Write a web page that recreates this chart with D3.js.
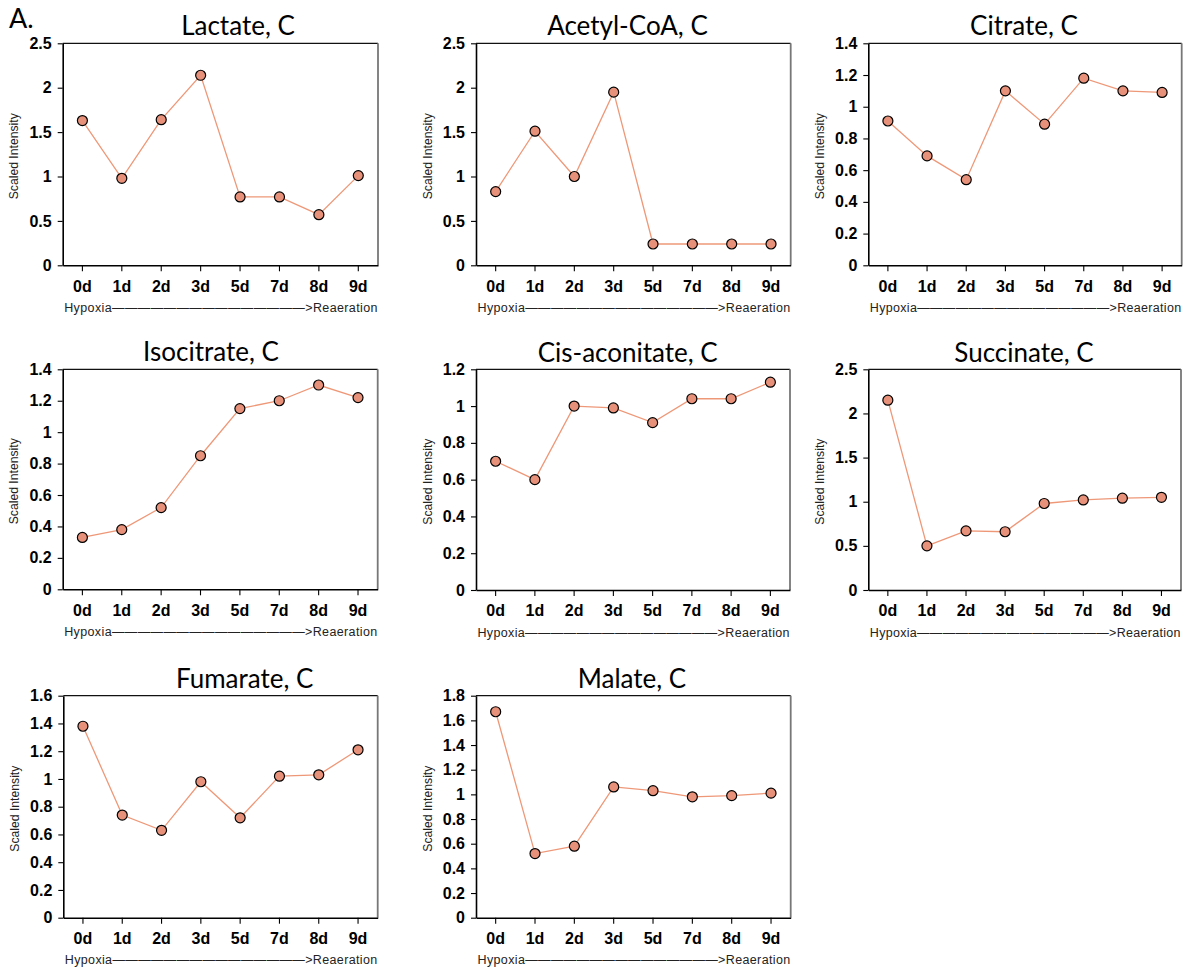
<!DOCTYPE html>
<html>
<head>
<meta charset="utf-8">
<script src="https://cdn.jsdelivr.net/npm/d3@7"></script>
<style>
  html, body { margin: 0; padding: 0; background: #fff; }
  svg { display: block; }
</style>
</head>
<body>
<svg id="chart" width="1190" height="972"></svg>
<script>
// Time points (hypoxia through reaeration)
const days = ["0d", "1d", "2d", "3d", "5d", "7d", "8d", "9d"];

// Metabolite titles
const titles = ["Lactate, C", "Acetyl-CoA, C", "Citrate, C",
                "Isocitrate, C", "Cis-aconitate, C", "Succinate, C",
                "Fumarate, C", "Malate, C"];

// Scaled intensity per metabolite
const lactate      = [1.63, 0.98, 1.64, 2.14, 0.77, 0.77, 0.57, 1.01];
const acetylCoA    = [0.83, 1.51, 1.00, 1.95, 0.24, 0.24, 0.24, 0.24];
const citrate      = [0.91, 0.69, 0.54, 1.10, 0.89, 1.18, 1.10, 1.09];
const isocitrate   = [0.33, 0.38, 0.52, 0.85, 1.15, 1.20, 1.30, 1.22];
const cisAconitate = [0.70, 0.60, 1.00, 0.99, 0.91, 1.04, 1.04, 1.13];
const succinate    = [2.15, 0.50, 0.67, 0.66, 0.98, 1.02, 1.04, 1.05];
const fumarate     = [1.38, 0.74, 0.63, 0.98, 0.72, 1.02, 1.03, 1.21];
const malate       = [1.67, 0.52, 0.58, 1.06, 1.03, 0.98, 0.99, 1.01];

// Y-axis tick values
const ticks25 = [0, 0.5, 1, 1.5, 2, 2.5];
const ticks14 = [0, 0.2, 0.4, 0.6, 0.8, 1, 1.2, 1.4];
const ticks12 = [0, 0.2, 0.4, 0.6, 0.8, 1, 1.2];
const ticks16 = [0, 0.2, 0.4, 0.6, 0.8, 1, 1.2, 1.4, 1.6];
const ticks18 = [0, 0.2, 0.4, 0.6, 0.8, 1, 1.2, 1.4, 1.6, 1.8];

const seriesList = [lactate, acetylCoA, citrate, isocitrate, cisAconitate, succinate, fumarate, malate];
const tickList   = [ticks25, ticks25, ticks14, ticks14, ticks12, ticks25, ticks16, ticks18];

// Plot-area frames for each panel (left, top, right, bottom) and title anchor
const frames = [
  {l: 62.7,  t: 43.3,  r: 378,    b: 265.3, tx: 238,    ty: 35},
  {l: 476,   t: 43.3,  r: 790.7,  b: 265.3, tx: 627.5,  ty: 35},
  {l: 868.3, t: 43.3,  r: 1181.7, b: 265.3, tx: 1024,   ty: 35},
  {l: 62.7,  t: 369.3, r: 377.7,  b: 589.3, tx: 211,    ty: 361},
  {l: 476,   t: 369.3, r: 790,    b: 590,   tx: 627.7,  ty: 361.5},
  {l: 868.3, t: 369.3, r: 1181,   b: 590,   tx: 1024,   ty: 361.5},
  {l: 63.3,  t: 695.7, r: 377.7,  b: 917.7, tx: 244.7,  ty: 688.3},
  {l: 476,   t: 695.7, r: 790.7,  b: 917.7, tx: 632,    ty: 688.3}
];

const lineColor = "#EE9878";
const dotColor = "#E8917A";
const fmt = d => String(+d.toFixed(1));

const svg = d3.select("#chart");

// Panel label
svg.append("text")
  .attr("x", 9).attr("y", 28)
  .attr("font-family", "Lato, 'Open Sans', sans-serif")
  .attr("font-size", 27)
  .attr("fill", "#000")
  .text("A.");

frames.forEach((f, i) => {
  const values = seriesList[i];
  const yt = tickList[i];
  const g = svg.append("g");

  const x = d3.scaleBand().domain(days).range([f.l, f.r]);
  const y = d3.scaleLinear().domain([0, d3.max(yt)]).range([f.b, f.t]);
  const cx = d => x(d) + x.bandwidth() / 2;

  // Top and right frame
  g.append("line").attr("x1", f.l).attr("x2", f.r).attr("y1", f.t).attr("y2", f.t)
    .attr("stroke", "#111").attr("stroke-width", 1.2);
  g.append("line").attr("x1", f.r).attr("x2", f.r).attr("y1", f.t).attr("y2", f.b)
    .attr("stroke", "#777").attr("stroke-width", 1.8);

  // Y axis
  const yAxis = g.append("g")
    .attr("transform", `translate(${f.l},0)`)
    .call(d3.axisLeft(y).tickValues(yt).tickFormat(fmt).tickSize(5).tickPadding(6).tickSizeOuter(0));
  // X axis
  const xAxis = g.append("g")
    .attr("transform", `translate(0,${f.b})`)
    .call(d3.axisBottom(x).tickSize(6).tickPadding(9).tickSizeOuter(0));

  [yAxis, xAxis].forEach(ax => {
    ax.attr("font-size", null).attr("font-family", null);
    ax.select(".domain").attr("stroke", "#000").attr("stroke-width", 1.6);
    ax.selectAll(".tick line").attr("stroke", "#000").attr("stroke-width", 1.1);
    ax.selectAll(".tick text")
      .attr("font-family", "'Liberation Sans', Arial, sans-serif")
      .attr("font-weight", "bold")
      .attr("font-size", 16)
      .attr("fill", "#000");
  });

  // Title
  g.append("text")
    .attr("x", f.tx).attr("y", f.ty)
    .attr("text-anchor", "middle")
    .attr("font-family", "Lato, 'Open Sans', sans-serif")
    .attr("font-size", 26)
    .attr("fill", "#000")
    .text(titles[i]);

  // Y-axis title
  g.append("text")
    .attr("transform", `translate(${f.l - 44.5},${(f.t + f.b) / 2 + 2}) rotate(-90)`)
    .attr("text-anchor", "middle")
    .attr("font-family", "'Liberation Sans', Arial, sans-serif")
    .attr("font-size", 12.2)
    .attr("fill", "#222")
    .text("Scaled Intensity");

  // Direction caption under the x axis
  g.append("text")
    .attr("x", f.l + 1.5).attr("y", f.b + 46.5)
    .attr("font-family", "'Liberation Sans', Arial, sans-serif")
    .attr("font-size", 12.5)
    .attr("fill", "#222")
    .attr("textLength", f.r - f.l - 2)
    .attr("lengthAdjust", "spacing")
    .text("Hypoxia" + "\u2014".repeat(15) + ">Reaeration");

  // Series line
  const line = d3.line().x((d, j) => cx(days[j])).y(d => y(d));
  g.append("path")
    .datum(values)
    .attr("d", line)
    .attr("fill", "none")
    .attr("stroke", lineColor)
    .attr("stroke-width", 1.3);

  // Markers
  g.selectAll("circle.pt")
    .data(values)
    .join("circle")
    .attr("class", "pt")
    .attr("cx", (d, j) => cx(days[j]))
    .attr("cy", d => y(d))
    .attr("r", 5)
    .attr("fill", dotColor)
    .attr("stroke", "#000")
    .attr("stroke-width", 1.2);
});
</script>
</body>
</html>
